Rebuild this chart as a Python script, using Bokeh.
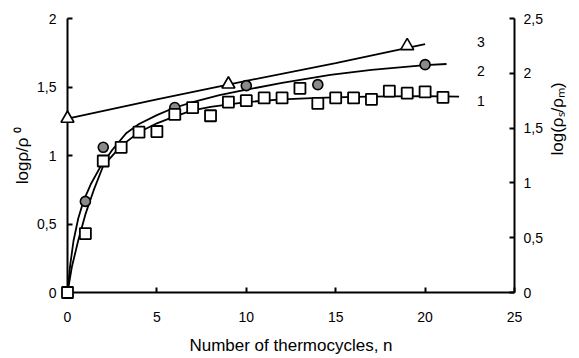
import math
from bokeh.plotting import figure
from bokeh.models import Range1d, LinearAxis, FixedTicker
from bokeh.core.properties import value
from bokeh.embed import file_html
from bokeh.resources import INLINE

# ---- data ----
n_sq = list(range(22))
logr_sq = [0, 0.43, 0.96, 1.06, 1.17, 1.175, 1.30, 1.35, 1.29, 1.39, 1.40, 1.42,
           1.42, 1.49, 1.38, 1.42, 1.42, 1.41, 1.47, 1.455, 1.465, 1.425]

n_ci = [0, 1, 2, 6, 10, 14, 20]
logr_ci = [0, 0.665, 1.06, 1.35, 1.51, 1.517, 1.663]

n_tr = [0, 9, 19]
logr_tr = [1.27, 1.52, 1.80]

fit1_n = [0, 0.25, 0.6, 1.0, 1.46, 2, 3, 4, 5, 6, 7, 8, 10, 12, 14, 16, 18, 20, 21.9]
fit1_y = [0, 0.19, 0.38, 0.57, 0.745, 0.925, 1.07, 1.17, 1.235, 1.285, 1.33, 1.355,
          1.39, 1.41, 1.42, 1.428, 1.432, 1.434, 1.43]

fit2_n = [0, 0.15, 0.34, 0.6, 0.9, 1.3, 1.83, 2.5, 3.3, 4, 5, 5.9, 7, 8.5, 10, 12,
          14.7, 17, 20, 21.2]
fit2_y = [0, 0.2, 0.38, 0.54, 0.67, 0.79, 0.915, 1.04, 1.165, 1.23, 1.295, 1.345,
          1.39, 1.44, 1.48, 1.53, 1.588, 1.625, 1.66, 1.668]

fit3_n = [0, 5, 10, 15, 20]
fit3_y = [1.27, 1.41, 1.545, 1.675, 1.813]

curve_names = ["1", "2", "3"]
curve_label_n = [23.12, 23.12, 23.12]
curve_label_y = [1.40, 1.62, 1.825]

x_ticks = [0, 5, 10, 15, 20, 25]
left_ticks = [0, 0.5, 1, 1.5, 2]
left_tick_labels = ["0", "0,5", "1", "1,5", "2"]
right_ticks = [0, 0.5, 1, 1.5, 2, 2.5]
right_tick_labels = ["0", "0,5", "1", "1,5", "2", "2,5"]

x_title = "Number of thermocycles, n"
left_title = "logρ/ρ ⁰"
right_title = "log(ρₛ/ρₘ)"

FONT = "Liberation Sans"

p = figure(width=579, height=358, output_backend="svg", toolbar_location=None,
           x_range=Range1d(0, 25), y_range=Range1d(0, 2),
           min_border_left=67, min_border_right=64, min_border_top=18,
           min_border_bottom=66)
p.extra_y_ranges = {"right": Range1d(0, 2.5)}
p.outline_line_color = None
p.grid.visible = False
p.background_fill_color = "white"
p.border_fill_color = "white"


def style_axis(ax, standoff, title, title_standoff):
    ax.axis_line_width = 2
    ax.axis_line_color = "black"
    ax.major_tick_line_width = 2
    ax.major_tick_line_color = "black"
    ax.major_tick_in = 5
    ax.major_tick_out = 0
    ax.minor_tick_line_color = None
    ax.major_label_text_font = FONT
    ax.major_label_text_font_size = "14px"
    ax.major_label_text_color = "black"
    ax.major_label_standoff = standoff
    ax.axis_label = title
    ax.axis_label_text_font = FONT
    ax.axis_label_text_font_size = "17px"
    ax.axis_label_text_font_style = "normal"
    ax.axis_label_text_color = "black"
    ax.axis_label_standoff = title_standoff


xa = p.xaxis[0]
xa.ticker = FixedTicker(ticks=x_ticks)
style_axis(xa, 19, x_title, 11)

ya = p.yaxis[0]
ya.ticker = FixedTicker(ticks=left_ticks)
ya.major_label_overrides = {t: s for t, s in zip(left_ticks, left_tick_labels)}
style_axis(ya, 11, left_title, 2)

ra = LinearAxis(y_range_name="right")
ra.ticker = FixedTicker(ticks=right_ticks)
ra.major_label_overrides = {t: s for t, s in zip(right_ticks, right_tick_labels)}
style_axis(ra, 9, right_title, 12)
ra.axis_label_orientation = math.pi / 2
p.add_layout(ra, "right")

# fitted curves
for fx, fy in [(fit1_n, fit1_y), (fit2_n, fit2_y), (fit3_n, fit3_y)]:
    p.line(fx, fy, line_color="black", line_width=1.8)

# data points (overlay level so markers at the axes are not cut)
r1 = p.scatter(n_ci, logr_ci, marker="circle", size=10, fill_color="#8a8a8a",
               line_color="black", line_width=1.6)
r2 = p.scatter(n_sq, logr_sq, marker="square", size=11, fill_color="white",
               line_color="black", line_width=1.8)
r3 = p.scatter(n_tr, logr_tr, marker="triangle", size=13, fill_color="white",
               line_color="black", line_width=1.6)
for r in (r1, r2, r3):
    r.level = "overlay"

# curve numbers
p.text(x=curve_label_n, y=curve_label_y, text=curve_names, text_font=value(FONT),
       text_font_size="14px", text_align="center", text_baseline="middle",
       text_color="black")

open("out.html", "w").write(file_html(p, INLINE))
